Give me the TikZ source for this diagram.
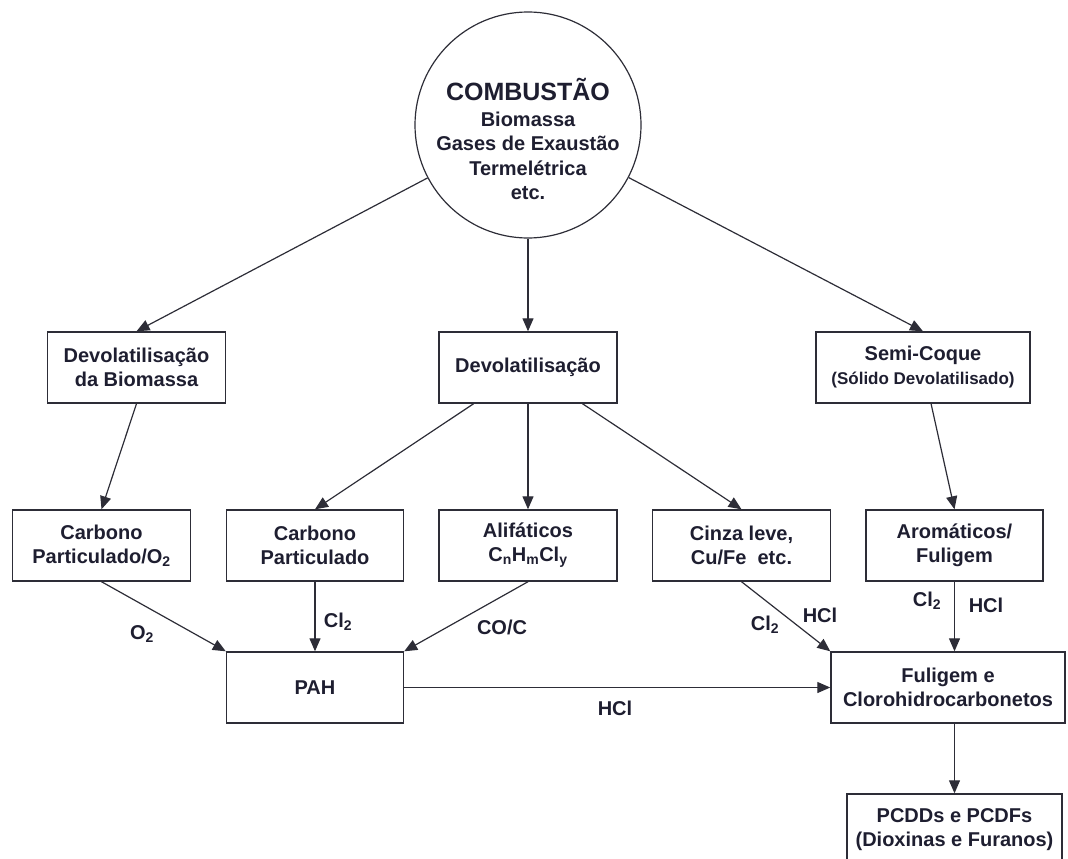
\documentclass[tikz,border=0pt]{standalone}
\usepackage{fontspec}
\setmainfont{Liberation Sans}
\usetikzlibrary{arrows.meta}
\definecolor{inkc}{RGB}{30,30,48}
\definecolor{linec}{RGB}{45,45,55}

\tikzset{
  proc/.style={draw=linec, line width=1.4pt, minimum width=178pt, minimum height=71pt,
    inner sep=2pt, align=center, text=inkc, font=\fontsize{20}{24}\selectfont\bfseries},
  flow/.style={draw=linec, line width=1.2pt, -{Triangle[length=13pt,width=11pt]}},
  elab/.style={inner sep=0pt, text=inkc, font=\fontsize{20}{24}\selectfont\bfseries}
}

\begin{document}
\begin{tikzpicture}[x=1pt,y=-1pt]
\useasboundingbox (0,0) rectangle (1068,859);

% source
\node[circle, draw=linec, line width=1.2pt, minimum size=226pt, inner sep=0pt] (comb) at (528,125) {};
\node[align=center, text=inkc, font=\fontsize{20}{24.5}\selectfont\bfseries] (combtxt) at (528,139)
  {{\fontsize{25}{28}\selectfont COMBUSTÃO}\\[1pt] Biomassa\\ Gases de Exaustão\\ Termelétrica\\ etc.};

% first row
\node[proc] (devbio) at (136.5,367.5) {Devolatilisação\\da Biomassa};
\node[proc] (devol) at (528,367.5) {Devolatilisação};
\node[proc, minimum width=214pt] (semic) at (923,367.5) {Semi-Coque\\{\fontsize{17}{20}\selectfont (Sólido Devolatilisado)}};

% second row
\node[proc] (cpo) at (101.5,545.5) {Carbono\\Particulado/O\textsubscript{2}};
\node[proc, minimum width=177pt] (cpart) at (315,545.5) {Carbono\\Particulado};
\node[proc] (alif) at (528,545.5) {Alifáticos\\C\textsubscript{n}H\textsubscript{m}Cl\textsubscript{y}};
\node[proc] (cinza) at (741.5,545.5) {Cinza leve,\\Cu/Fe\ \ etc.};
\node[proc, minimum width=177pt] (arom) at (954.5,545.5) {Aromáticos/\\Fuligem};

% products
\node[proc, minimum width=177pt] (pah) at (315,687.5) {PAH};
\node[proc, minimum width=234pt] (fulig) at (948,687.5) {Fuligem e\\Clorohidrocarbonetos};
\node[proc, minimum width=215pt, minimum height=72pt] (pcdd) at (954.5,830) {PCDDs e PCDFs\\(Dioxinas e Furanos)};

% connectors
\draw[flow] (comb) -- (devbio.north);
\draw[flow] (comb) -- (devol);
\draw[flow] (comb) -- (semic.north);
\draw[flow] (devbio.south) -- (cpo.north);
\draw[flow] (devol) -- (cpart.north);
\draw[flow] (devol) -- (alif);
\draw[flow] (devol) -- (cinza.north);
\draw[flow] (semic) -- (arom.north);
\draw[flow] (cpo.south) -- (pah.north west);
\draw[flow] (cpart) -- (pah);
\draw[flow] (alif.south) -- (pah.north east);
\draw[flow] (cinza.south) -- (fulig.north west);
\draw[flow] (arom.south) -- (arom.south |- fulig.north);
\draw[flow] (pah) -- (fulig);
\draw[flow] (fulig.south -| pcdd.north) -- (pcdd.north);

% reagents
\node[elab] (lo2) at (142,634) {O\textsubscript{2}};
\node[elab] (lcla) at (338,622) {Cl\textsubscript{2}};
\node[elab] (lcoc) at (502,627) {CO/C};
\node[elab] (lclb) at (765,625) {Cl\textsubscript{2}};
\node[elab] (lhcla) at (820,615) {HCl};
\node[elab] (lclc) at (927,601) {Cl\textsubscript{2}};
\node[elab] (lhclb) at (986,605) {HCl};
\node[elab] (lhclc) at (615,708) {HCl};
\end{tikzpicture}
\end{document}
